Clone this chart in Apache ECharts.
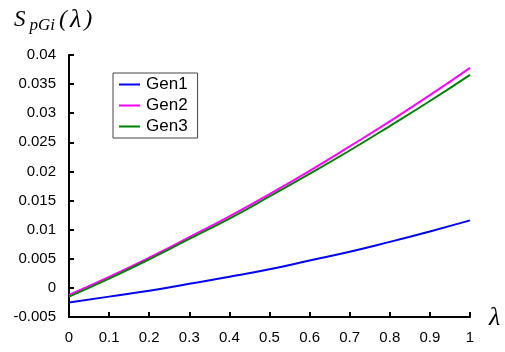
<!DOCTYPE html>
<html><head><meta charset="utf-8">
<script src="https://cdn.jsdelivr.net/npm/echarts@6/dist/echarts.min.js"></script>
<style>html,body{margin:0;padding:0;background:#fff}#c{width:505px;height:352px}</style>
</head><body><div id="c"></div>
<script>
var lambdas = [0, 0.1, 0.2, 0.3, 0.4, 0.5, 0.6, 0.7, 0.8, 0.9, 1];
var gen1 = [-0.0025, -0.0015, -0.0005, 0.0007, 0.0019, 0.0032, 0.0047, 0.0062, 0.0079, 0.0097, 0.0116];
var gen2 = [-0.0012, 0.0019, 0.0052, 0.0087, 0.0123, 0.0161, 0.0201, 0.0243, 0.0286, 0.0331, 0.0378];
var gen3 = [-0.0015, 0.0016, 0.0049, 0.0084, 0.0119, 0.0157, 0.0196, 0.0236, 0.0278, 0.0321, 0.0366];
var seriesNames = ['Gen1', 'Gen2', 'Gen3'];
var colors = ['#0000ff', '#ff00ff', '#008000'];

function pairs(arr){ return lambdas.map(function(x,i){ return [x, arr[i]]; }); }
var chart = echarts.init(document.getElementById('c'), null, {renderer:'canvas'});
var font = 'Arial, "Liberation Sans", sans-serif';
var serif = '"Liberation Serif", "DejaVu Serif", serif';
chart.setOption({
  animation: false,
  backgroundColor: '#fff',
  grid: {left: 69, right: 35, top: 55, bottom: 35},
  legend: {
    orient: 'vertical', left: 113, top: 73,
    data: seriesNames,
    icon: 'rect', itemWidth: 21, itemHeight: 2, itemGap: 4,
    borderColor: '#444', borderWidth: 1, padding: [3, 10, 3, 6],
    textStyle: {fontFamily: font, fontSize: 17, color: '#000', padding: [0, 0, 0, 1]}
  },
  xAxis: {
    type: 'value', min: 0, max: 1, interval: 0.1,
    axisLine: {onZero: false, lineStyle: {color: '#000', width: 2}},
    axisTick: {inside: true, length: 5, lineStyle: {color: '#000', width: 2}},
    splitLine: {show: false},
    axisLabel: {fontFamily: font, fontSize: 15, color: '#000', margin: 13,
      formatter: function(v){ return String(parseFloat(v.toFixed(1))); }}
  },
  yAxis: {
    type: 'value', min: -0.005, max: 0.04, interval: 0.005,
    axisLine: {show: true, onZero: false, lineStyle: {color: '#000', width: 2}},
    axisTick: {show: true, inside: true, length: 5, lineStyle: {color: '#000', width: 2}},
    splitLine: {show: false},
    axisLabel: {fontFamily: font, fontSize: 15, color: '#000', margin: 13,
      formatter: function(v){ return String(parseFloat(v.toFixed(3))); }}
  },
  series: seriesNames.map(function(n, i){
    return {
      name: n, type: 'line', data: pairs([gen1, gen2, gen3][i]),
      smooth: true, showSymbol: false, symbol: 'none',
      lineStyle: {color: colors[i], width: 2}, itemStyle: {color: colors[i]}
    };
  }),
  graphic: [
    {type: 'text', left: 14, top: 7, style: {
      text: '{s|S}{sub|pGi}{p|(}{lam|λ}{p|)}',
      rich: {
        s: {fontFamily: serif, fontStyle: 'italic', fontSize: 23, fill: '#000', padding: [0, 4, 0, 0]},
        sub: {fontFamily: serif, fontStyle: 'italic', fontSize: 17, fill: '#000', padding: [12, 4, 0, 0]},
        p: {fontFamily: serif, fontStyle: 'italic', fontSize: 24, fill: '#000', padding: [0, 2, 0, 0]},
        lam: {fontFamily: serif, fontStyle: 'italic', fontSize: 26, fill: '#000', padding: [0, 3, 0, 1]}
      }
    }},
    {type: 'text', left: 489, top: 305, style: {
      text: 'λ', fontFamily: serif, fontStyle: 'italic', fontSize: 26, fill: '#000'
    }}
  ]
});
</script></body></html>
